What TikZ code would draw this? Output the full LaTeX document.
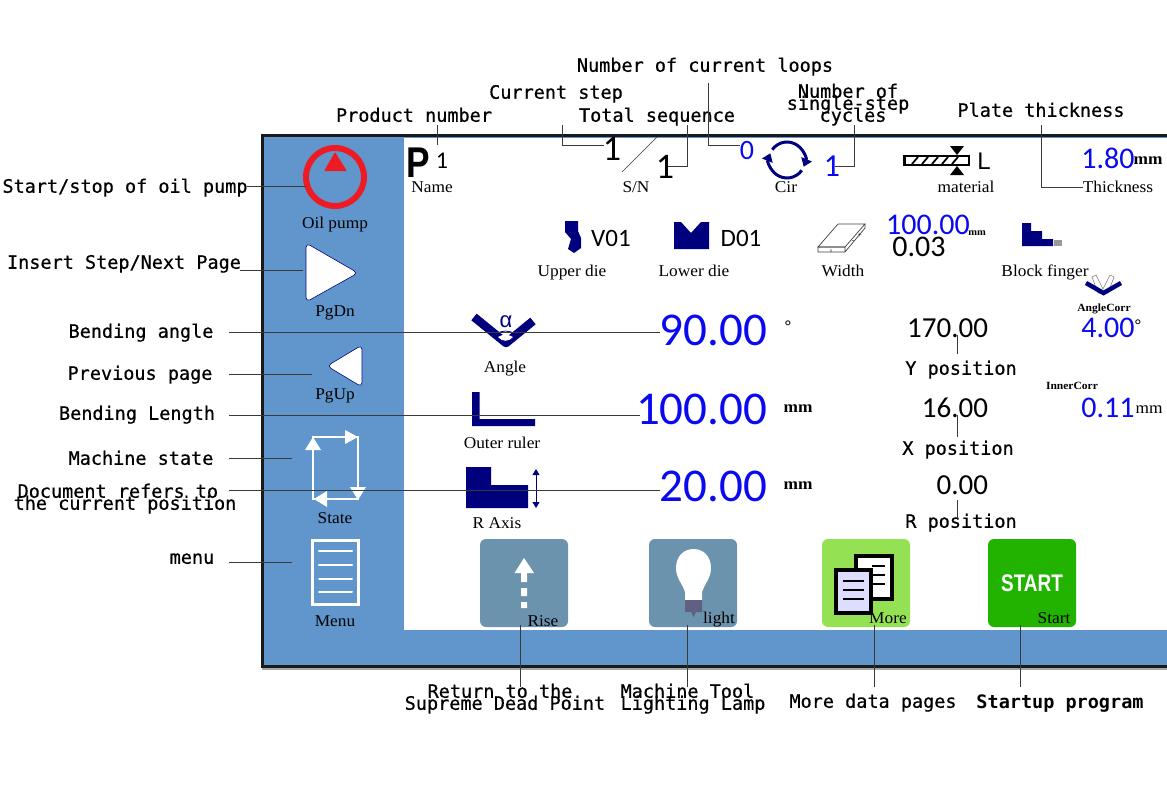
\documentclass[tikz,border=0pt]{standalone}
\usepackage{fontspec}
\usetikzlibrary{arrows.meta}
\setmainfont[FakeStretch=1.05]{Liberation Serif}
\newfontfamily\annofont[FakeBold=0.6]{DejaVu Sans Mono}
\newfontfamily\annoboldfont{DejaVu Sans Mono}
\newfontfamily\numfont{Carlito}
\newfontfamily\headfont{Liberation Sans}
\newcommand\tightlines{\lineskiplimit=-50pt\relax}
\definecolor{panelblue}{HTML}{6096CB}
\definecolor{navyicon}{HTML}{00007F}
\definecolor{valblue}{HTML}{0A0AF0}
\definecolor{framek}{HTML}{1A1A1A}
\definecolor{leader}{HTML}{3A3A3A}
\definecolor{btngray}{HTML}{6B93AD}
\definecolor{btnlime}{HTML}{94E253}
\definecolor{btngreen}{HTML}{21B300}
\definecolor{pagelav}{HTML}{DDDDFF}
\definecolor{pumpred}{HTML}{ED1C24}
\tikzset{
 base/.style={inner sep=0pt,outer sep=0pt},
 anno/.style={base,text height=13.5pt,text depth=0pt,font=\annofont\fontsize{18.5}{12}\selectfont\tightlines,text=black,align=center},
 annob/.style={anno,font=\annoboldfont\bfseries\fontsize{18.5}{12}\selectfont\tightlines},
 lab/.style={base,text height=10.5pt,text depth=0pt,font=\fontsize{16.5}{16}\selectfont,text=black},
 labb/.style={base,text height=#1*0.45pt,text depth=0pt,font=\bfseries\fontsize{#1}{15}\selectfont,text=black},
 num/.style={base,text height=#1*0.644pt,text depth=0pt,font=\numfont\fontsize{#1}{#1}\selectfont,text=black},
 bnum/.style={num=#1,text=valblue},
 leadline/.style={draw=leader,line width=.8pt},
 btn/.style={rounded corners=6pt,draw=none},
 tri/.style={fill=white,draw=navyicon,line width=.6pt,rounded corners=4.5pt,line join=round},
}
\begin{document}
\begin{tikzpicture}[x=1pt,y=-1pt]
\useasboundingbox (0,0) rectangle (1167,800);
\fill[white] (0,0) rectangle (1167,800);
% screen frame
\fill[gray!70] (262,666) rectangle (1167,670);
\fill[panelblue] (262,135) rectangle (1167,667);
\draw[framek,line width=3.5pt] (1170,135.5) -- (262.5,135.5) -- (262.5,666.5) -- (1170,666.5);
\fill[white] (404,137.5) rectangle (1167,630);
% --- left column icons
\draw[draw=pumpred,line width=6pt] (335,177) circle[radius=29];
\fill[pumpred,rounded corners=1pt] (335,152) -- (347,171) -- (324,171) -- cycle;
\node[lab] (oil) at (335,223) {Oil pump};
\draw[tri] (306,243) -- (358,273) -- (306,302) -- cycle;
\node[lab] (pgdn) at (335,311) {PgDn};
\draw[tri] (327,366) -- (362,345) -- (362,387) -- cycle;
\node[lab] (pgup) at (335,394) {PgUp};
\draw[draw=white,line width=2pt] (313,450) -- (313,437) -- (358,437) -- (358,499) -- (313,499) -- cycle;
\fill[white] (345,430) -- (358,437) -- (345,444) -- cycle;
\fill[white] (305,450) -- (313,437) -- (321,450) -- cycle;
\fill[white] (350,487) -- (366,487) -- (358,500) -- cycle;
\fill[white] (327,491) -- (314,499) -- (327,507) -- cycle;
\node[lab] (state) at (335,518) {State};
\draw[white,line width=3pt] (312,540) rectangle (358.5,604);
\draw[white,line width=2.5pt,line cap=round] (319,551) -- (352,551) (319,565) -- (352,565);
\draw[white,line width=2pt,line cap=round] (319,579) -- (352,579) (319,592) -- (352,592);
\node[lab] (menu) at (335,621) {Menu};
% --- top row
\node[base,text height=31pt,text depth=0pt,font=\headfont\bfseries\fontsize{43}{43}\selectfont,xscale=.82] (pp) at (418,161.5) {P};
\node[num=24] (pn) at (442,161) {1};
\node[lab] (name) at (432,187) {Name};
\node[num=36] (cs) at (612,149) {1};
\node[num=36] (ts) at (665,167) {1};
\node[lab] (sn) at (636,187) {S/N};
\node[bnum=28] (cl) at (747,150) {0};
\draw[navyicon,line width=3pt,-{Triangle[length=8pt,width=11pt]}] (787,160) ++(-145:18) arc[start angle=-145,end angle=22,radius=18];
\draw[navyicon,line width=3pt,-{Triangle[length=8pt,width=11pt]}] (787,160) ++(35:18) arc[start angle=35,end angle=202,radius=18];
\node[lab] (cir) at (786,187) {Cir};
\node[bnum=32] (sc) at (832,166) {1};
\draw[black,line width=2.5pt,fill=white] (904.5,156) rectangle (969,165);
\foreach \hx in {912,922,932,942,952}{\draw[black,line width=1.8pt] (\hx,164) -- (\hx+6,157);}
\fill[black] (950,146) -- (964,146) -- (957,155) -- cycle;
\fill[black] (950,175) -- (964,175) -- (957,166) -- cycle;
\node[base,text height=17pt,text depth=0pt,font=\headfont\fontsize{24}{24}\selectfont] (ll) at (984,161) {L};
\node[lab] (mat) at (966,187) {material};
\node[bnum=30] (th) at (1108,159) {1.80};
\node[labb=16.5] (thmm) at (1148,160.5) {mm};
\node[lab] (thick) at (1118,187) {Thickness};
% --- second row
\fill[navyicon] (565,221) -- (578,221) -- (578,231) -- (581,238) -- (581,248) -- (574,253) -- (568,249) -- (571,239) -- (565,232) -- cycle;
\node[num=25] (v01) at (611,238) {V01};
\node[lab] (ud) at (572,271) {Upper die};
\fill[navyicon] (674,222) -- (681,222) -- (691,233) -- (701,222) -- (709,222) -- (709,249) -- (674,249) -- cycle;
\node[num=25] (d01) at (741,238) {D01};
\node[lab] (ld) at (694,271) {Lower die};
\draw[black!75,line width=.7pt,fill=white] (818,247) -- (838,224) -- (865,224) -- (845,247) -- cycle;
\draw[black!75,line width=.7pt] (818,247) rectangle (845,252) (831,249) -- (831,252) (845,252) -- (865,228) -- (865,224);
\node[base,font=\fontsize{7}{7}\selectfont] (wp) at (860,236) {+};
\node[base,font=\fontsize{7}{7}\selectfont] (wm) at (853,242) {-};
\node[lab] (wd) at (843,271) {Width};
\node[bnum=30] (wv) at (928,225) {100.00};
\node[labb=10] (wmm) at (977,233) {mm};
\node[num=30] (wt) at (919,247) {0.03};
\fill[navyicon] (1022,223) -- (1031,223) -- (1031,231) -- (1042,231) -- (1042,239) -- (1053,239) -- (1053,246) -- (1022,246) -- cycle;
\fill[gray!80] (1054,240) rectangle (1062,246);
\node[lab] (bf) at (1045,271) {Block finger};
\draw[gray,line width=.6pt,fill=white] (1098,293) -- (1092,277) -- (1096,275) -- (1103,289) -- (1110,275) -- (1114,277) -- (1108,293) -- cycle;
\draw[navyicon,line width=4.5pt] (1086,283) -- (1103.5,293) -- (1121,283);
% --- big readouts
\draw[navyicon,line width=8.5pt,line cap=butt,line join=round] (474,317) -- (506,343) -- (533,321);
\fill[white] (498,337) .. controls (503,334) and (508,334) .. (513,337) .. controls (509,342) and (502,342) .. (498,337) -- cycle;
\draw[navyicon,line width=.8pt] (496,334) .. controls (502,330) and (509,330) .. (515,334);
\node[base,text height=11pt,text depth=0pt,font=\headfont\fontsize{22}{22}\selectfont,text=navyicon] (alpha) at (506,322) {α};
\node[lab] (ang) at (505,367) {Angle};
\fill[navyicon] (472,392) rectangle (479.5,426) (472,419) rectangle (535,426);
\node[lab] (out) at (502,443) {Outer ruler};
\fill[navyicon] (466,467) -- (491,467) -- (491,485) -- (528,485) -- (528,508) -- (466,508) -- cycle;
\draw[navyicon,line width=.8pt,{Triangle[length=6pt,width=7pt]}-{Triangle[length=6pt,width=7pt]}] (536,469) -- (536,508);
\node[lab] (rax) at (497,523) {R Axis};
\node[bnum=47,anchor=east] (ba) at (767,330) {90.00};
\node[bnum=47,anchor=east] (bl) at (767,409) {100.00};
\node[bnum=47,anchor=east] (cp) at (767,486) {20.00};
\node[labb=16,text height=5pt] (dg1) at (788,329) {°};
\node[labb=16.5] (mm1) at (798,409) {mm};
\node[labb=16.5] (mm2) at (798,486) {mm};
\node[num=29,anchor=east] (yv) at (988,328) {170.00};
\node[num=29,anchor=east] (xv) at (988,408) {16.00};
\node[num=29,anchor=east] (rv) at (988,485) {0.00};
\node[anno] (yp) at (961,368) {Y position};
\node[anno] (xp) at (958,448) {X position};
\node[anno] (rp) at (961,521) {R position};
\node[labb=11] (ac) at (1104,309) {AngleCorr};
\node[bnum=30] (acv) at (1108,328) {4.00};
\node[labb=16,text height=5pt] (dg2) at (1138,328) {°};
\node[labb=11] (ic) at (1072,387) {InnerCorr};
\node[bnum=30] (icv) at (1108,408) {0.11};
\node[lab] (icmm) at (1149,408) {mm};
% --- buttons
\fill[btn,btngray] (480,539) rectangle (568,627);
\fill[white] (524,558) -- (534,573) -- (527,573) -- (527,582) -- (521,582) -- (521,573) -- (514.5,573) -- cycle;
\fill[white] (521,588) rectangle (527,596) (521,602) rectangle (527,608);
\node[lab] (rise) at (543,621) {Rise};
\fill[btn,btngray] (649,539) rectangle (737,627);
\fill[white] (685,600) -- (685,592) .. controls (682,583) and (676,578) .. (676,568) .. controls (676,556) and (684,549) .. (693.5,549) .. controls (703,549) and (711,556) .. (711,568) .. controls (711,578) and (705,583) .. (702,592) -- (702,600) -- cycle;
\fill[black!45!blue!25!gray] (685,600) -- (702,600) -- (702,612) -- (696,612) -- (693.5,617) -- (691,612) -- (685,612) -- cycle;
\node[lab] (lgt) at (719,618) {light};
\fill[btn,btnlime] (822,539) rectangle (910,627);
\draw[black,line width=3.5pt,fill=white] (856,556) rectangle (892,599);
\draw[black,line width=2.5pt] (872,566) -- (885,566) (872,575) -- (885,575) (872,584) -- (885,584);
\draw[black,line width=3.5pt,fill=pagelav] (836,570) rectangle (871,613);
\draw[black,line width=2.5pt] (843,581) -- (864,581) (843,590) -- (864,590) (843,599) -- (864,599);
\node[lab] (more) at (888,618) {More};
\fill[btn,btngreen] (988,539) rectangle (1076,627);
\node[base,text height=17pt,text depth=0pt,font=\headfont\bfseries\fontsize{24}{24}\selectfont,text=white,xscale=.79] (strt) at (1032,583) {START};
\node[lab] (stt) at (1054,618) {Start};
% --- annotation labels
\node[anno] (a1) at (125,186) {Start/stop of oil pump};
\node[anno] (a2) at (124,262) {Insert Step/Next Page};
\node[anno] (a3) at (141,331) {Bending angle};
\node[anno] (a4) at (140,373) {Previous page};
\node[anno] (a5) at (137,413) {Bending Length};
\node[anno] (a6) at (141,458) {Machine state};
\node[anno,align=left] (a7) at (125,503) {\hspace*{4pt}Document refers to\\the current position};
\node[anno] (a8) at (192,557) {menu};
\node[anno] (t1) at (414,115) {Product number};
\node[anno] (t2) at (556,92) {Current step};
\node[anno] (t3) at (705,65) {Number of current loops};
\node[anno] (t4) at (657,115) {Total sequence};
\node[anno] (t5) at (848,115) {Number of\\single-step\\\hspace*{10pt}cycles};
\node[anno] (t6) at (1041,110) {Plate thickness};
\node[anno] (b1) at (505,703) {Return to the\hspace*{10pt}\\Supreme Dead Point};
\node[anno,align=left] (b2) at (693,703) {Machine Tool\\Lighting Lamp};
\node[anno] (b3) at (873,701) {More data pages};
\node[annob] (b4) at (1060,702) {Startup program};
% --- leader lines
\coordinate (l1a) at (247,186); \coordinate (l1b) at (306,186);
\coordinate (l2a) at (240,270); \coordinate (l2b) at (303,270);
\coordinate (l3a) at (229,332); \coordinate (l3b) at (660,332);
\coordinate (l4a) at (229,374); \coordinate (l4b) at (312,374);
\coordinate (l5a) at (229,415.5); \coordinate (l5b) at (640,415.5);
\coordinate (l6a) at (229,458); \coordinate (l6b) at (292,458);
\coordinate (l7a) at (229,490.5); \coordinate (l7b) at (660,490.5);
\coordinate (l8a) at (229,562); \coordinate (l8b) at (292,562);
\foreach \n in {1,...,8}{\draw[leadline] (l\n a) -- (l\n b);}
\coordinate (u1a) at (437,125); \coordinate (u1b) at (437,145);
\draw[leadline] (u1a) -- (u1b);
\coordinate (u2a) at (562,125); \coordinate (u2b) at (604,145);
\draw[leadline] (u2a) |- (u2b);
\coordinate (u3a) at (657,137); \coordinate (u3b) at (622,172);
\draw[leadline,line width=.6pt] (u3a) -- (u3b);
\coordinate (u4a) at (687,125); \coordinate (u4b) at (668,166);
\draw[leadline] (u4a) |- (u4b);
\coordinate (u5a) at (708,83); \coordinate (u5b) at (740,145);
\draw[leadline] (u5a) |- (u5b);
\coordinate (u6a) at (854,125); \coordinate (u6b) at (835,166);
\draw[leadline] (u6a) |- (u6b);
\coordinate (u7a) at (1041,125); \coordinate (u7b) at (1083,187);
\draw[leadline] (u7a) |- (u7b);
\coordinate (p1a) at (957,335); \coordinate (p1b) at (957,354);
\coordinate (p2a) at (957,415); \coordinate (p2b) at (957,437);
\coordinate (p3a) at (957,500); \coordinate (p3b) at (957,520);
\foreach \n in {1,2,3}{\draw[leadline] (p\n a) -- (p\n b);}
\coordinate (d1a) at (520,625); \coordinate (d1b) at (520,687);
\coordinate (d2a) at (687,625); \coordinate (d2b) at (687,687);
\coordinate (d3a) at (874.5,625); \coordinate (d3b) at (874.5,687);
\coordinate (d4a) at (1020,625); \coordinate (d4b) at (1020,687);
\foreach \n in {1,2,3,4}{\draw[leadline] (d\n a) -- (d\n b);}
\end{tikzpicture}
\end{document}
